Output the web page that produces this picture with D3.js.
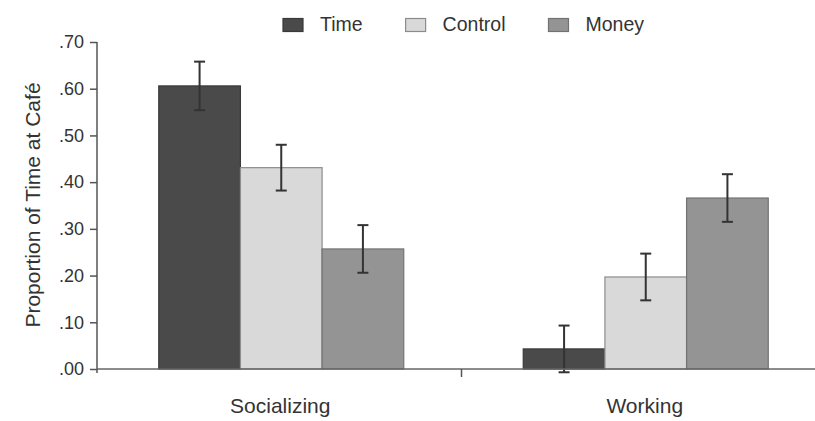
<!DOCTYPE html>
<html>
<head>
<meta charset="utf-8">
<script src="https://cdn.jsdelivr.net/npm/d3@7"></script>
<style>
  body { margin: 0; background: #fff; }
  svg { display: block; font-family: "Liberation Sans", Arial, sans-serif; }
</style>
</head>
<body>
<svg id="chart" width="815" height="421"></svg>
<script>
const categories = ["Socializing", "Working"];
const series = ["Time", "Control", "Money"];
const values = {
  Time:    [0.606, 0.043],
  Control: [0.431, 0.197],
  Money:   [0.257, 0.366]
};
const errors = {
  Time:    [0.052, 0.050],
  Control: [0.049, 0.050],
  Money:   [0.051, 0.051]
};
const yTicks = [0, 0.1, 0.2, 0.3, 0.4, 0.5, 0.6, 0.7];
const colors = { Time: "#4a4a4a", Control: "#d9d9d9", Money: "#949494" };
const strokes = { Time: "#3a3a3a", Control: "#8c8c8c", Money: "#727272" };

const svg = d3.select("#chart");
const W = 815, H = 421;
const x0 = d3.scaleBand().domain(categories).range([97, 826]).padding(0);
const groupW = 245;
const shift = 2;
const x1 = d3.scaleBand().domain(series)
  .range([(x0.bandwidth() - groupW) / 2 + shift, (x0.bandwidth() + groupW) / 2 + shift]).padding(0);
const y = d3.scaleLinear().domain([0, 0.7]).range([369, 42]);

const fmt = v => d3.format(".2f")(v).replace(/^0/, "");

// bars
const rows = [];
categories.forEach((c, i) => series.forEach(s => rows.push({ c, s, v: values[s][i], e: errors[s][i] })));

svg.append("g").selectAll("rect").data(rows).join("rect")
  .attr("x", d => x0(d.c) + x1(d.s))
  .attr("y", d => y(d.v))
  .attr("width", x1.bandwidth())
  .attr("height", d => y(0) - y(d.v))
  .attr("fill", d => colors[d.s])
  .attr("stroke", d => strokes[d.s])
  .attr("stroke-width", 1.2);

// error bars
const eg = svg.append("g").attr("stroke", "#333").attr("stroke-width", 2);
const cap = 5.5;
rows.forEach(d => {
  const cx = x0(d.c) + x1(d.s) + x1.bandwidth() / 2;
  const yt = y(d.v + d.e), yb = y(d.v - d.e);
  eg.append("line").attr("x1", cx).attr("x2", cx).attr("y1", yt).attr("y2", yb);
  eg.append("line").attr("x1", cx - cap).attr("x2", cx + cap).attr("y1", yt).attr("y2", yt);
  eg.append("line").attr("x1", cx - cap).attr("x2", cx + cap).attr("y1", yb).attr("y2", yb);
});

// y axis
const yAxis = d3.axisLeft(y).tickValues(yTicks).tickFormat(fmt).tickSize(7).tickPadding(6);
const ya = svg.append("g").attr("transform", "translate(97,0)").call(yAxis);
ya.select(".domain").remove();
ya.append("line").attr("x1", 0).attr("x2", 0).attr("y1", 42).attr("y2", 373)
  .attr("stroke", "#555").attr("stroke-width", 1.5);
ya.selectAll(".tick line").attr("stroke", "#555").attr("stroke-width", 1.5);
ya.selectAll(".tick text").attr("fill", "#333").style("font-size", "18px")
  .style("font-family", "'Liberation Sans', Arial, sans-serif");

// x axis
const xa = svg.append("g");
xa.append("line").attr("x1", 97).attr("x2", W).attr("y1", 369).attr("y2", 369)
  .attr("stroke", "#666").attr("stroke-width", 1.5);
xa.selectAll("line.div").data(categories.slice(1)).join("line").attr("class", "div")
  .attr("x1", d => x0(d)).attr("x2", d => x0(d)).attr("y1", 369).attr("y2", 377)
  .attr("stroke", "#555").attr("stroke-width", 1.5);
xa.selectAll("text").data(categories).join("text")
  .attr("x", d => x0(d) + x0.bandwidth() / 2 + 1)
  .attr("y", 413)
  .attr("text-anchor", "middle")
  .attr("fill", "#333")
  .style("font-size", "21px")
  .text(d => d);

// y label
svg.append("text")
  .attr("transform", "translate(40,205) rotate(-90)")
  .attr("text-anchor", "middle")
  .attr("fill", "#333")
  .style("font-size", "21px")
  .text("Proportion of Time at Café");

// legend
const lg = svg.append("g");
let lx = 283;
series.forEach(s => {
  lg.append("rect").attr("x", lx).attr("y", 18.5).attr("width", 20).attr("height", 13)
    .attr("fill", colors[s]).attr("stroke", strokes[s]).attr("stroke-width", 1.2);
  const t = lg.append("text").attr("x", lx + 37).attr("y", 31).attr("fill", "#333")
    .style("font-size", "19.5px").text(s);
  const w = t.node().getComputedTextLength();
  lx = lx + 37 + w + 43;
});
</script>
</body>
</html>
